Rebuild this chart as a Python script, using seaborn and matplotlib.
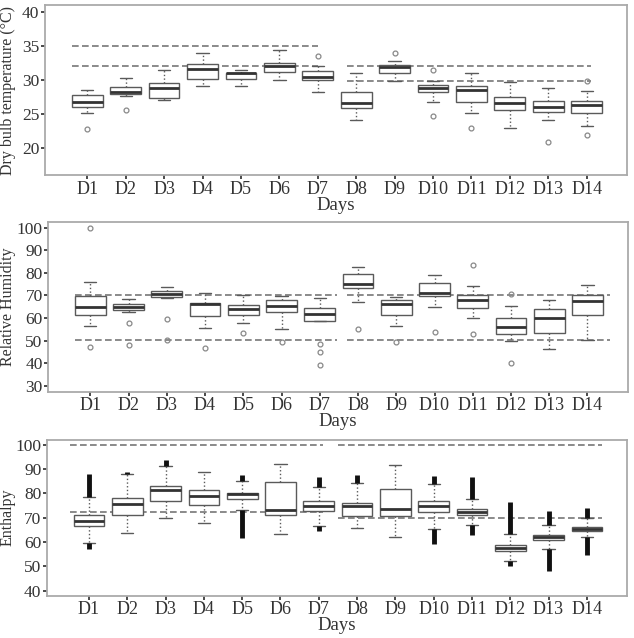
import numpy as np
import matplotlib
matplotlib.use("Agg")
import matplotlib.pyplot as plt
import seaborn as sns

days = ["D%d" % i for i in range(1, 15)]

# dry bulb temperature (five-number summaries)
t_lo = [25.1, 27.6, 27.0, 29.1, 29.1, 30.0, 28.2, 24.1, 29.9, 26.8, 25.1, 22.9, 24.1, 23.3]
t_q1 = [26.0, 28.0, 27.4, 30.1, 30.1, 31.2, 30.0, 25.9, 31.1, 28.3, 26.8, 25.6, 25.3, 25.2]
t_med = [26.8, 28.3, 28.9, 31.6, 31.1, 32.0, 30.5, 26.6, 31.9, 28.9, 28.5, 26.6, 26.1, 26.3]
t_q3 = [27.8, 29.0, 29.6, 32.3, 31.1, 32.5, 31.3, 28.3, 32.2, 29.3, 29.1, 27.5, 26.9, 26.9]
t_hi = [28.6, 30.3, 31.5, 34.0, 31.5, 34.4, 32.0, 31.1, 32.8, 29.9, 31.0, 29.7, 28.8, 28.4]
t_out = [[22.8], [25.6], [], [], [], [], [33.6], [], [34.0], [31.5, 24.7], [23.0], [], [20.9], [29.9, 22.0]]
t_lines = [(35.0, 0.6, 7.0), (32.1, 0.6, 7.0), (32.1, 7.75, 14.1), (29.9, 7.75, 14.1)]

# relative humidity
h_lo = [56.4, 62.5, 69.0, 55.4, 57.9, 55.1, 58.6, 67.3, 56.3, 64.9, 60.2, 49.9, 46.1, 50.3]
h_q1 = [61.5, 63.7, 69.5, 60.8, 61.5, 62.7, 58.9, 73.1, 61.4, 69.9, 64.4, 53.1, 53.5, 61.4]
h_med = [65.0, 64.9, 70.5, 66.3, 64.0, 65.4, 61.8, 74.9, 66.2, 71.2, 67.8, 56.0, 60.1, 67.6]
h_q3 = [69.8, 66.3, 72.0, 66.6, 66.0, 67.8, 64.4, 79.7, 68.2, 75.5, 70.2, 60.1, 64.0, 70.2]
h_hi = [75.8, 68.3, 73.7, 71.0, 70.0, 69.8, 68.8, 82.6, 69.1, 79.1, 74.2, 65.4, 68.0, 74.7]
h_out = [[100.0, 47.4], [57.9, 47.9], [59.6, 50.3], [46.6], [53.5], [49.2], [48.6, 45.1, 39.2],
         [55.1], [49.6], [54.0], [83.4, 52.8], [70.7, 40.3], [], []]
h_lines = [(70.0, 0.6, 7.45), (50.2, 0.6, 7.45), (70.0, 7.7, 14.6), (50.2, 7.7, 14.6)]

# enthalpy
e_lo = [59.8, 63.7, 69.7, 67.9, 73.0, 63.3, 66.5, 65.9, 62.2, 65.5, 67.0, 52.3, 57.1, 61.9]
e_q1 = [66.6, 71.0, 77.0, 75.2, 77.5, 71.0, 72.6, 70.8, 70.6, 72.2, 71.2, 56.5, 60.7, 64.4]
e_med = [68.6, 75.7, 81.2, 79.1, 79.6, 73.2, 74.8, 74.9, 73.6, 74.8, 72.3, 57.7, 62.2, 65.3]
e_q3 = [71.3, 78.0, 82.9, 81.2, 80.1, 84.5, 76.7, 76.2, 81.9, 77.0, 73.7, 59.0, 63.1, 66.1]
e_hi = [78.4, 88.0, 91.3, 88.7, 84.9, 92.0, 82.7, 84.2, 91.7, 83.8, 77.8, 63.5, 67.0, 70.0]
# dense outlier runs drawn as solid bars: (day index, from, to)
e_runs = [(0, 78.4, 87.8), (0, 59.8, 57.1), (1, 88.0, 88.6), (2, 91.3, 93.9), (4, 84.9, 87.5),
          (4, 73.0, 61.8), (6, 82.7, 86.8), (6, 66.5, 64.6), (7, 84.2, 87.5), (9, 83.8, 87.1),
          (9, 65.5, 59.3), (10, 77.8, 86.6), (10, 67.0, 62.8), (11, 63.5, 76.5), (11, 52.3, 50.0),
          (12, 67.0, 72.6), (12, 57.1, 48.0), (13, 70.0, 73.9), (13, 61.9, 54.7)]
e_lines = [(100.0, 0.5, 7.1), (72.2, 0.5, 7.1), (100.0, 7.5, 14.4), (70.0, 7.5, 14.4)]

sns.set_theme(style="ticks")
plt.rcParams["font.family"] = ["Liberation Serif", "DejaVu Serif"]

fig = plt.figure(figsize=(6.34, 6.38), dpi=100)
axes = [fig.add_axes([0.071, 0.725, 0.918, 0.267]),
        fig.add_axes([0.076, 0.386, 0.914, 0.266]),
        fig.add_axes([0.074, 0.066, 0.915, 0.245])]

panels = [
    (t_lo, t_q1, t_med, t_q3, t_hi, t_out, t_lines, "Dry bulb temperature (\u00b0C)", (16, 41), np.arange(20, 41, 5)),
    (h_lo, h_q1, h_med, h_q3, h_hi, h_out, h_lines, "Relative Humidity", (27.4, 102.5), np.arange(30, 101, 10)),
    (e_lo, e_q1, e_med, e_q3, e_hi, [[]] * 14, e_lines, "Enthalpy", (37.9, 102.1), np.arange(40, 101, 10)),
]

grey = "#5a5a5a"
for ax, (lo, q1, med, q3, hi, out, lines, ylab, ylim, yt) in zip(axes, panels):
    stats = []
    for i in range(14):
        stats.append(dict(whislo=lo[i], q1=q1[i], med=med[i], q3=q3[i], whishi=hi[i], fliers=out[i]))
    ax.bxp(stats, positions=range(1, 15), widths=0.8, capwidths=0.32, patch_artist=True,
           boxprops=dict(facecolor="white", edgecolor=grey, linewidth=1.0),
           medianprops=dict(color="#333333", linewidth=2.0),
           whiskerprops=dict(color=grey, linewidth=1.0, linestyle=":"),
           capprops=dict(color=grey, linewidth=1.0),
           flierprops=dict(marker="o", markersize=3.5, markerfacecolor="none",
                           markeredgecolor="#888888", markeredgewidth=0.9))
    for y, x0, x1 in lines:
        ax.hlines(y, x0, x1, colors="#777777", linestyles=(0, (4, 2)), linewidth=1.2, zorder=1)
    ax.set_xlim(-0.1, 15.05)
    ax.set_ylim(*ylim)
    ax.set_yticks(yt)
    ax.set_xticks(range(1, 15))
    ax.set_xticklabels(days)
    ax.set_xlabel("Days", fontsize=13.5, color="#333333", labelpad=-1)
    ax.set_ylabel(ylab, fontsize=11.5, color="#333333")
    ax.tick_params(axis="x", labelsize=13, colors="#333333", length=3, pad=1)
    ax.tick_params(axis="y", labelsize=12.5, colors="#333333", length=3, pad=1)
    for s in ax.spines.values():
        s.set_color("#aaaaaa")
        s.set_linewidth(1.3)
    # put the label's right edge about 16 px from the figure edge
    left_px = ax.get_position().x0 * 634
    ax.yaxis.set_label_coords(-(left_px - 16) / (ax.get_position().width * 634), 0.5)

for i, a, b in e_runs:
    axes[2].vlines(i + 1, min(a, b), max(a, b), colors="#111111", linewidth=3.5, zorder=3)

fig.savefig("out.png", dpi=100)
